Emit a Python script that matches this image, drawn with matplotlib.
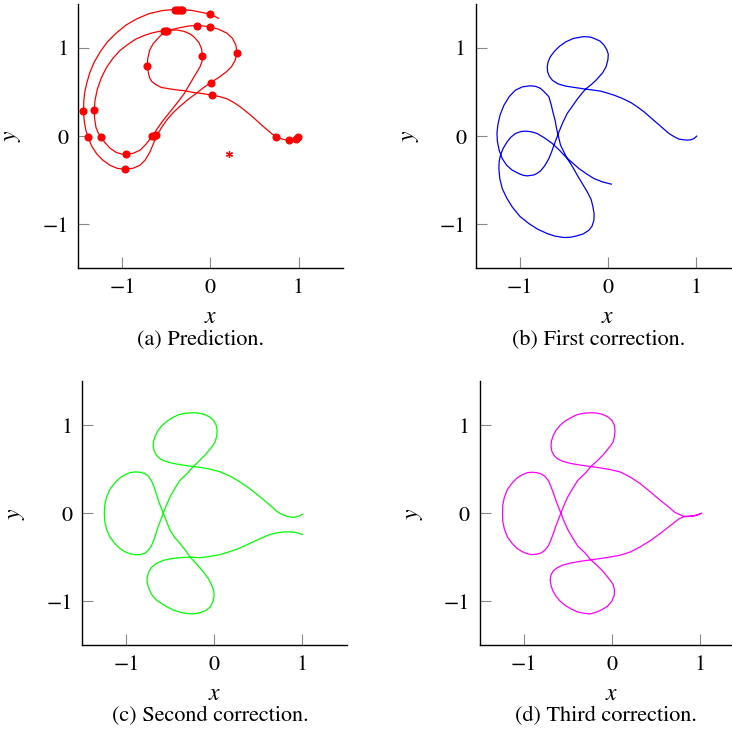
import matplotlib
matplotlib.use("Agg")
import matplotlib.pyplot as plt

plt.rcParams["font.family"] = "STIXGeneral"
plt.rcParams["mathtext.fontset"] = "stix"

# (a) coarse prediction, drawn as three pieces that meet near the top left
pred_s_x = [1.006, 0.985, 0.95, 0.892, 0.84, 0.79, 0.748, 0.70, 0.64, 0.565, 0.50, 0.43, 0.338, 0.26,
            0.186, 0.10, 0.0, -0.1, -0.2, -0.292, -0.4, -0.5, -0.558, -0.62, -0.665, -0.69, -0.705,
            -0.717, -0.712, -0.69, -0.65, -0.596, -0.55, -0.497]
pred_s_y = [0.0, -0.025, -0.04, -0.046, -0.04, -0.025, -0.008, 0.025, 0.075, 0.14, 0.20, 0.26, 0.333, 0.385,
            0.425, 0.45, 0.468, 0.485, 0.497, 0.515, 0.527, 0.543, 0.553, 0.585, 0.62, 0.66, 0.72,
            0.795, 0.88, 0.977, 1.05, 1.11, 1.16, 1.193]

pred_outer_x = [-0.497, -0.42, -0.345, -0.25, -0.156, -0.07, 0.0, 0.09, 0.186, 0.25, 0.29, 0.30, 0.28,
                0.24, 0.186, 0.1, 0.0, -0.08, -0.156, -0.25, -0.345, -0.42, -0.497, -0.56, -0.611,
                -0.65, -0.687, -0.74, -0.8, -0.88, -0.972, -1.06, -1.142, -1.225, -1.294, -1.35, -1.389,
                -1.415, -1.43, -1.438, -1.44, -1.438, -1.427, -1.405, -1.37, -1.32, -1.25, -1.17, -1.07,
                -0.96, -0.84, -0.7, -0.55, -0.4, -0.3, -0.2, -0.1, 0.0, 0.05, 0.091]
pred_outer_y = [1.193, 1.215, 1.232, 1.25, 1.256, 1.25, 1.237, 1.215, 1.17, 1.11, 1.03, 0.939, 0.86,
                0.79, 0.735, 0.67, 0.606, 0.55, 0.49, 0.42, 0.34, 0.27, 0.182, 0.09, 0.0,
                -0.09, -0.18, -0.27, -0.33, -0.365, -0.376, -0.365, -0.33, -0.27, -0.197, -0.11, -0.008,
                0.07, 0.15, 0.23, 0.295, 0.40, 0.50, 0.60, 0.72, 0.84, 0.96, 1.07, 1.17,
                1.26, 1.33, 1.39, 1.425, 1.44, 1.437, 1.425, 1.405, 1.385, 1.36, 1.337]

pred_inner_x = [-0.497, -0.58, -0.67, -0.76, -0.85, -0.94, -1.03, -1.11, -1.18, -1.24, -1.285, -1.31,
                -1.32, -1.315, -1.30, -1.275, -1.245, -1.2, -1.142, -1.07, -1.0, -0.96, -0.88, -0.8,
                -0.73, -0.668, -0.6, -0.535, -0.46, -0.383, -0.3, -0.231, -0.17, -0.118, -0.095, -0.091,
                -0.10, -0.13, -0.18, -0.231, -0.30, -0.383, -0.44, -0.497]
pred_inner_y = [1.193, 1.19, 1.17, 1.14, 1.10, 1.04, 0.97, 0.88, 0.78, 0.66, 0.53, 0.41,
                0.295, 0.2, 0.1, 0.04, -0.008, -0.07, -0.135, -0.185, -0.205, -0.206, -0.195, -0.16,
                -0.09, -0.008, 0.09, 0.182, 0.275, 0.371, 0.48, 0.598, 0.70, 0.788, 0.85, 0.913,
                0.99, 1.06, 1.12, 1.16, 1.19, 1.205, 1.203, 1.193]

pred_mark_x = [0.995, 0.973, 0.893, 0.748, 0.012, 0.008, 0.30, -0.007, -0.151, 0.0, -0.40, -0.38,
               -0.36, -0.34, -0.32, -0.53, -0.51, -0.49, -0.091, -0.718, -1.442, -1.325, -1.385,
               -1.248, -0.96, -0.972, -0.664, -0.64, -0.615]
pred_mark_y = [-0.008, -0.038, -0.045, -0.008, 0.466, 0.606, 0.939, 1.235, 1.254, 1.383, 1.432, 1.435,
               1.436, 1.436, 1.435, 1.193, 1.195, 1.196, 0.913, 0.795, 0.288, 0.295, -0.008,
               -0.008, -0.205, -0.375, 0.0, 0.004, 0.008]
star_x = [0.205]
star_y = [-0.2]

# (b) first correction
corr1_x = [1.008, 0.977, 0.94, 0.90, 0.85, 0.807, 0.75, 0.693, 0.63, 0.561, 0.48, 0.409, 0.33, 0.258,
           0.16, 0.068, -0.01, -0.083, -0.18, -0.254, -0.35, -0.48, -0.57, -0.632, -0.665, -0.685,
           -0.689, -0.68, -0.655, -0.61, -0.55, -0.48, -0.39, -0.273, -0.20, -0.159, -0.09, -0.045,
           -0.012, 0.004, 0.0, -0.02, -0.06, -0.13, -0.19, -0.254, -0.30, -0.348, -0.40, -0.462,
           -0.51, -0.556, -0.585, -0.613, -0.64, -0.67, -0.72, -0.765, -0.80, -0.84, -0.916, -0.96,
           -1.0, -1.087, -1.15, -1.2, -1.235, -1.255, -1.26, -1.25, -1.225, -1.18, -1.12, -1.049,
           -0.97, -0.878, -0.82, -0.765, -0.72, -0.67, -0.645, -0.625, -0.60, -0.583, -0.56, -0.538,
           -0.50, -0.462, -0.40, -0.348, -0.29, -0.234, -0.19, -0.17, -0.157, -0.159, -0.18, -0.216,
           -0.28, -0.366, -0.43, -0.5, -0.6, -0.689, -0.80, -0.898, -1.0, -1.087, -1.15, -1.2,
           -1.228, -1.238, -1.235, -1.22, -1.19, -1.144, -1.1, -1.049, -0.99, -0.935, -0.87, -0.803,
           -0.72, -0.632, -0.55, -0.48, -0.40, -0.33, -0.24, -0.159, -0.06, 0.038]
corr1_y = [0.0, -0.027, -0.042, -0.045, -0.04, -0.034, -0.005, 0.03, 0.085, 0.144, 0.215, 0.277, 0.335,
           0.383, 0.43, 0.466, 0.49, 0.511, 0.525, 0.534, 0.548, 0.568, 0.595, 0.636, 0.68, 0.73,
           0.788, 0.84, 0.90, 0.96, 1.02, 1.07, 1.11, 1.13, 1.125, 1.11, 1.08, 1.034,
           0.98, 0.93, 0.87, 0.79, 0.72, 0.64, 0.585, 0.534, 0.48, 0.42, 0.345, 0.258,
           0.16, 0.049, -0.03, -0.102, -0.18, -0.254, -0.34, -0.394, -0.42, -0.44, -0.451, -0.445,
           -0.43, -0.386, -0.33, -0.254, -0.16, -0.06, 0.03, 0.125, 0.24, 0.352, 0.45, 0.523,
           0.56, 0.572, 0.565, 0.542, 0.50, 0.447, 0.36, 0.276, 0.18, 0.087, -0.01, -0.102,
           -0.18, -0.254, -0.35, -0.443, -0.54, -0.633, -0.72, -0.803, -0.88, -0.955, -1.02, -1.068,
           -1.11, -1.136, -1.148, -1.151, -1.135, -1.106, -1.055, -0.992, -0.91, -0.803, -0.70, -0.595,
           -0.48, -0.367, -0.29, -0.216, -0.14, -0.064, -0.01, 0.03, 0.052, 0.057, 0.05, 0.03,
           -0.02, -0.083, -0.16, -0.235, -0.305, -0.367, -0.43, -0.481, -0.52, -0.545]

# (c) second correction
corr2_x = [1.00, 0.97, 0.93, 0.89, 0.85, 0.80, 0.75, 0.71, 0.62, 0.52, 0.40, 0.29, 0.18, 0.065, -0.05,
           -0.16, -0.24, -0.35, -0.466, -0.56, -0.62, -0.66, -0.685, -0.695, -0.69, -0.67, -0.64,
           -0.59, -0.53, -0.466, -0.40, -0.33, -0.257, -0.19, -0.125, -0.06, -0.011, 0.02, 0.031,
           0.025, 0.008, -0.02, -0.06, -0.106, -0.17, -0.24, -0.31, -0.39, -0.45, -0.504, -0.545,
           -0.58, -0.60, -0.62, -0.637, -0.66, -0.686, -0.715, -0.75, -0.79, -0.84, -0.902, -0.96,
           -1.02, -1.073, -1.13, -1.187, -1.225, -1.245, -1.25, -1.245, -1.225, -1.187, -1.13, -1.073,
           -1.02, -0.96, -0.902, -0.84, -0.79, -0.75, -0.715, -0.686, -0.66, -0.637, -0.62, -0.60,
           -0.58, -0.545, -0.504, -0.45, -0.39, -0.33, -0.276, -0.20, -0.125, -0.07, -0.03, -0.008,
           -0.003, -0.015, -0.049, -0.10, -0.163, -0.22, -0.276, -0.37, -0.466, -0.56, -0.655, -0.715,
           -0.75, -0.765, -0.762, -0.745, -0.713, -0.66, -0.58, -0.50, -0.428, -0.35, -0.276, -0.163,
           -0.05, 0.065, 0.18, 0.292, 0.41, 0.52, 0.62, 0.71, 0.78, 0.842, 0.90, 0.95, 1.00]
corr2_y = [-0.01, -0.03, -0.042, -0.046, -0.042, -0.028, -0.005, 0.02, 0.10, 0.185, 0.28, 0.355, 0.42,
           0.47, 0.50, 0.52, 0.53, 0.545, 0.565, 0.59, 0.62, 0.66, 0.71, 0.76, 0.82, 0.88, 0.94,
           1.0, 1.05, 1.09, 1.12, 1.135, 1.14, 1.138, 1.125, 1.097, 1.057, 1.0, 0.935,
           0.87, 0.81, 0.765, 0.715, 0.66, 0.595, 0.53, 0.45, 0.375, 0.28, 0.185, 0.09,
           0.0, -0.05, -0.10, -0.148, -0.22, -0.30, -0.37, -0.42, -0.455, -0.47, -0.472, -0.46,
           -0.435, -0.40, -0.345, -0.27, -0.18, -0.09, 0.0, 0.09, 0.18, 0.27, 0.345, 0.40,
           0.435, 0.46, 0.469, 0.465, 0.45, 0.42, 0.37, 0.30, 0.22, 0.148, 0.10, 0.05,
           0.0, -0.09, -0.193, -0.275, -0.345, -0.42, -0.497, -0.58, -0.667, -0.74, -0.818, -0.88,
           -0.93, -1.0, -1.065, -1.105, -1.13, -1.14, -1.142, -1.13, -1.10, -1.05, -0.99, -0.92,
           -0.837, -0.78, -0.723, -0.665, -0.615, -0.57, -0.535, -0.518, -0.508, -0.502, -0.50, -0.505,
           -0.49, -0.47, -0.435, -0.394, -0.34, -0.288, -0.245, -0.223, -0.213, -0.212, -0.215, -0.225,
           -0.242]

# (d) third correction
corr3_x = [1.02, 0.97, 0.92, 0.86, 0.812, 0.76, 0.718, 0.64, 0.548, 0.44, 0.321, 0.21, 0.094, -0.02,
           -0.133, -0.238, -0.35, -0.466, -0.56, -0.62, -0.655, -0.68, -0.69, -0.685, -0.665, -0.635,
           -0.585, -0.525, -0.455, -0.39, -0.32, -0.246, -0.18, -0.115, -0.05, 0.0, 0.028, 0.037,
           0.03, 0.015, -0.015, -0.055, -0.10, -0.165, -0.238, -0.305, -0.385, -0.445, -0.50, -0.543,
           -0.578, -0.598, -0.618, -0.636, -0.66, -0.69, -0.72, -0.76, -0.80, -0.85, -0.907, -0.96,
           -1.02, -1.075, -1.13, -1.185, -1.22, -1.238, -1.24, -1.238, -1.22, -1.185, -1.13, -1.075,
           -1.02, -0.96, -0.907, -0.85, -0.80, -0.76, -0.72, -0.69, -0.66, -0.636, -0.618, -0.598,
           -0.578, -0.543, -0.50, -0.445, -0.385, -0.305, -0.238, -0.165, -0.10, -0.055, -0.015, 0.015,
           0.03, 0.028, 0.0, -0.05, -0.115, -0.18, -0.25, -0.32, -0.39, -0.455, -0.525, -0.585,
           -0.635, -0.67, -0.69, -0.70, -0.69, -0.665, -0.62, -0.56, -0.466, -0.35, -0.238, -0.133,
           -0.02, 0.094, 0.21, 0.321, 0.44, 0.548, 0.64, 0.718, 0.77, 0.812, 0.86, 0.92, 0.97, 1.0]
corr3_y = [0.0, -0.02, -0.034, -0.037, -0.034, -0.01, 0.008, 0.075, 0.148, 0.24, 0.337, 0.41, 0.469, 0.495,
           0.515, 0.53, 0.545, 0.565, 0.59, 0.62, 0.655, 0.70, 0.76, 0.82, 0.88, 0.94,
           1.0, 1.05, 1.09, 1.12, 1.135, 1.14, 1.138, 1.125, 1.097, 1.057, 1.0, 0.93,
           0.87, 0.81, 0.765, 0.715, 0.66, 0.595, 0.53, 0.45, 0.375, 0.28, 0.185, 0.09,
           0.0, -0.05, -0.10, -0.148, -0.22, -0.30, -0.37, -0.42, -0.45, -0.465, -0.47, -0.46,
           -0.435, -0.40, -0.345, -0.27, -0.18, -0.09, 0.0, 0.09, 0.18, 0.27, 0.345, 0.40,
           0.435, 0.46, 0.465, 0.46, 0.445, 0.42, 0.37, 0.30, 0.22, 0.148, 0.10, 0.05,
           0.0, -0.09, -0.185, -0.28, -0.375, -0.45, -0.53, -0.595, -0.66, -0.715, -0.765, -0.81,
           -0.87, -0.93, -1.0, -1.057, -1.097, -1.125, -1.144, -1.135, -1.12, -1.09, -1.05, -1.0,
           -0.94, -0.88, -0.82, -0.76, -0.70, -0.655, -0.62, -0.59, -0.565, -0.545, -0.53, -0.515,
           -0.497, -0.477, -0.44, -0.383, -0.31, -0.231, -0.16, -0.098, -0.06, -0.042, -0.035, -0.03,
           -0.02, -0.01]

ticks = [-1, 0, 1]


def style(ax, caption, cap_x, cap_y):
    ax.set_xlim(-1.5, 1.5)
    ax.set_ylim(-1.5, 1.5)
    ax.set_xticks(ticks)
    ax.set_yticks(ticks)
    for side in ["top", "right"]:
        ax.spines[side].set_visible(False)
    for side in ["left", "bottom"]:
        ax.spines[side].set_linewidth(1.0)
    ax.tick_params(direction="in", length=8, width=0.8, color="#888888",
                   labelsize=16, pad=7)
    ax.text(0.5, -0.185, "$x$", transform=ax.transAxes, ha="center", va="center", fontsize=17)
    ax.text(-0.248, 0.5, "$y$", transform=ax.transAxes, ha="center", va="center",
            rotation=90, fontsize=17)
    fig.text(cap_x, cap_y, caption, ha="center", va="center", fontsize=16)


fig = plt.figure(figsize=(7.32, 7.32), dpi=100)
ax_a = fig.add_axes([0.107, 0.6335, 0.361, 0.361])
ax_b = fig.add_axes([0.650, 0.6335, 0.361, 0.361])
ax_c = fig.add_axes([0.1124, 0.1184, 0.361, 0.361])
ax_d = fig.add_axes([0.6553, 0.1184, 0.361, 0.361])

red = "#ff0000"
for xs, ys in [(pred_s_x, pred_s_y), (pred_outer_x, pred_outer_y), (pred_inner_x, pred_inner_y)]:
    ax_a.plot(xs, ys, color=red, lw=0.9)
ax_a.plot(pred_mark_x, pred_mark_y, "o", color=red, ms=4.8, mec=red)
# small asterisk mark below the curves
ax_a.plot(star_x, star_y, marker=(6, 2, 0), ls="none", color=red, ms=5, mew=0.9)
style(ax_a, "(a) Prediction.", 0.2743, 0.5355)

ax_b.plot(corr1_x, corr1_y, color="#0000ff", lw=0.9)
style(ax_b, "(b) First correction.", 0.8176, 0.5355)

ax_c.plot(corr2_x, corr2_y, color="#00ff00", lw=0.9)
style(ax_c, "(c) Second correction.", 0.2869, 0.0219)

ax_d.plot(corr3_x, corr3_y, color="#ff00ff", lw=0.9)
style(ax_d, "(d) Third correction.", 0.8279, 0.0219)

fig.savefig("out.png", dpi=100)
